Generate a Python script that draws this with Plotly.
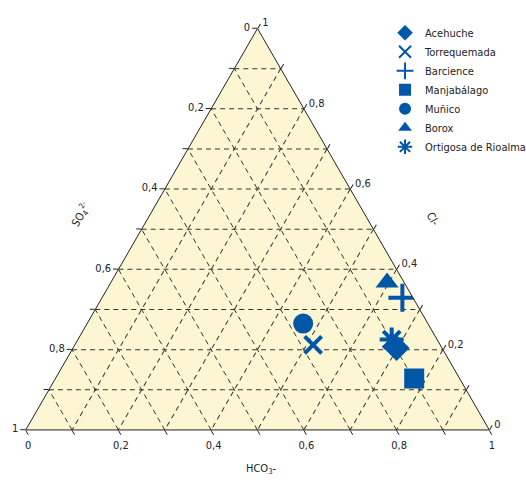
import plotly.graph_objects as go

# Data: ternary composition (fractions) per site
sites = ["Acehuche", "Torrequemada", "Barcience", "Manjabálago", "Muñico", "Borox", "Ortigosa de Rioalmar"]
cl = [0.204, 0.212, 0.329, 0.128, 0.265, 0.367, 0.225]      # Cl-  (top corner)
so4 = [0.098, 0.274, 0.023, 0.098, 0.269, 0.037, 0.098]     # SO4 2- (bottom-left corner)
hco3 = [0.698, 0.514, 0.648, 0.774, 0.466, 0.596, 0.677]    # HCO3- (bottom-right corner)
symbols = ["diamond", "x-thin", "cross-thin", "square", "circle", "triangle-up", "asterisk"]

tick_vals = [i / 10 for i in range(11)]
tick_text_rev = ["1", "", "0,8", "", "0,6", "", "0,4", "", "0,2", "", "0"]

BLUE = "#0057a8"
FONT = "DejaVu Sans Condensed, Arial Narrow, sans-serif"

fig = go.Figure()
for i, name in enumerate(sites):
    sym = symbols[i]
    thin = sym in ("x-thin", "cross-thin", "asterisk")
    fig.add_trace(go.Scatterternary(
        a=[cl[i]], b=[so4[i]], c=[hco3[i]],
        mode="markers", name=name,
        marker=dict(symbol=sym, size=20 if sym != "x-thin" else 17, color=BLUE,
                    line=dict(color=BLUE, width=4 if thin else 0)),
    ))

axis_common = dict(
    tickvals=tick_vals, ticktext=tick_text_rev, title=dict(text=""),
    showline=True, linecolor="#222", linewidth=1,
    showgrid=True, gridcolor="#333", gridwidth=1, griddash="5px,4px",
    ticks="outside", ticklen=5, tickcolor="#222",
    tickfont=dict(family=FONT, size=11, color="#222"),
    min=0,
)

fig.update_layout(
    width=526, height=482,
    margin=dict(l=0, r=0, t=0, b=0, autoexpand=False),
    paper_bgcolor="white",
    font=dict(family=FONT, size=11, color="#222"),
    ternary=dict(
        sum=1,
        bgcolor="#fdf6d3",
        domain=dict(x=[0.0489, 0.9302], y=[0.1079, 0.941]),
        aaxis=axis_common,
        baxis=axis_common,
        caxis=axis_common,
    ),
    legend=dict(x=0.732, y=0.962, xanchor="left", yanchor="top",
                font=dict(family=FONT, size=11, color="#222"),
                itemsizing="constant", bgcolor="rgba(0,0,0,0)"),
    annotations=[
        dict(text="SO<sub>4</sub><sup>2-</sup>", x=0.124, y=0.556, xref="paper", yref="paper",
             showarrow=False, textangle=-60, font=dict(family=FONT, size=11, color="#222")),
        dict(text="Cl-", x=0.846, y=0.545, xref="paper", yref="paper",
             showarrow=False, textangle=60, font=dict(family=FONT, size=11, color="#222")),
        dict(text="HCO<sub>3</sub>-", x=0.498, y=0.008, xref="paper", yref="paper",
             showarrow=False, font=dict(family=FONT, size=11, color="#222")),
    ],
)

fig.write_html("out.html", config={"displayModeBar": False},
               post_script="document.body.style.margin='0';document.body.style.overflow='hidden';")
